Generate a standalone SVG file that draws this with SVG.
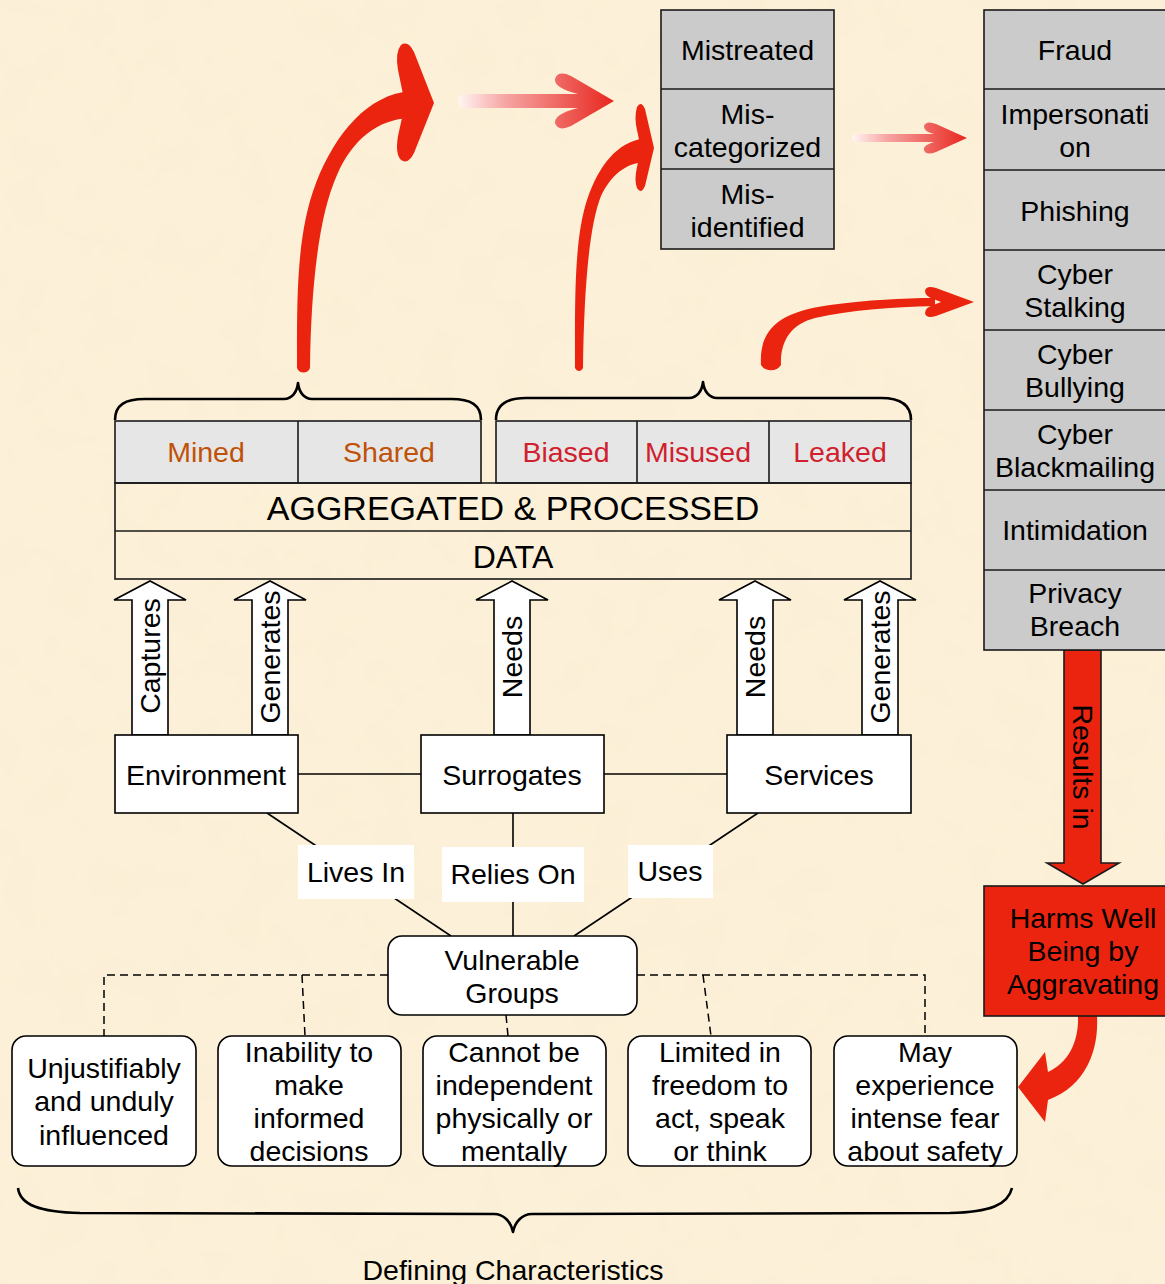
<svg xmlns="http://www.w3.org/2000/svg" width="1165" height="1284" viewBox="0 0 1165 1284">
  <defs>
    <style>
      .t { font-family: "Liberation Sans", Arial, Helvetica, sans-serif; font-size: 28.5px; fill: #000; text-anchor: middle; }
      .big { font-size: 34px; }
      .orange { fill: #BF5208; }
      .crimson { fill: #D01F2E; }
      .box { fill: #fff; stroke: #000; stroke-width: 1.6; }
      .gray { fill: #CBCBCB; stroke: #1a1a1a; stroke-width: 1.6; }
      .cell { fill: #E6E6E6; stroke: #1a1a1a; stroke-width: 1.6; }
      .frame { fill: none; stroke: #1a1a1a; stroke-width: 1.6; }
      .ln { fill: none; stroke: #000; stroke-width: 1.6; }
      .dash { fill: none; stroke: #000; stroke-width: 1.5; stroke-dasharray: 8 5; }
      .label { fill: #fff; stroke: none; }
      .red { fill: #EB2410; }
      .brace { fill: none; stroke: #000; stroke-width: 2.6; stroke-linejoin: round; }
      .hollow { fill: #fff; stroke: #000; stroke-width: 1.6; stroke-linejoin: miter; }
    </style>
    <filter id="paper" x="0" y="0" width="100%" height="100%">
      <feTurbulence type="fractalNoise" baseFrequency="0.022" numOctaves="3" seed="7"/>
      <feColorMatrix type="matrix" values="0 0 0 0 0.93  0 0 0 0 0.84  0 0 0 0 0.64  0.7 0 0 0 -0.3"/>
    </filter>
    <linearGradient id="fadeA" gradientUnits="userSpaceOnUse" x1="458" y1="0" x2="614" y2="0">
      <stop offset="0" stop-color="#FFF6F4"/>
      <stop offset="0.3" stop-color="#F6A6A4"/>
      <stop offset="1" stop-color="#E8261E"/>
    </linearGradient>
    <linearGradient id="fadeB" gradientUnits="userSpaceOnUse" x1="852" y1="0" x2="967" y2="0">
      <stop offset="0" stop-color="#FFF6F4"/>
      <stop offset="0.3" stop-color="#F6A6A4"/>
      <stop offset="1" stop-color="#E8261E"/>
    </linearGradient>
    <!-- white block arrow pointing up, base at origin -->
    <polygon id="upArrow" class="hollow" points="-18,0 -18,-135 -36,-135 0,-154 36,-135 18,-135 18,0"/>
  </defs>

  <!-- parchment background -->
  <rect x="0" y="0" width="1165" height="1284" fill="#FCF1D8"/>
  <rect x="0" y="0" width="1165" height="1284" filter="url(#paper)"/>

  <!-- connectors -->
  <g id="connectors">
    <!-- node links -->
    <line class="ln" x1="298" y1="774" x2="421" y2="774"/>
    <line class="ln" x1="604" y1="774" x2="727" y2="774"/>
    <line class="ln" x1="267" y1="813" x2="451" y2="936"/>
    <line class="ln" x1="513" y1="813" x2="513" y2="936"/>
    <line class="ln" x1="758" y1="813" x2="574" y2="936"/>
    <rect class="label" x="298" y="845" width="116" height="54"/>
    <text class="t" x="356" y="882">Lives In</text>
    <rect class="label" x="442" y="847" width="142" height="55"/>
    <text class="t" x="513" y="884">Relies On</text>
    <rect class="label" x="628" y="845" width="85" height="53"/>
    <text class="t" x="670" y="881">Uses</text>

    <!-- dashed links to characteristics -->
    <polyline class="dash" points="388,975 104,975 104,1036"/>
    <line class="dash" x1="302" y1="975" x2="305" y2="1036"/>
    <line class="dash" x1="506" y1="1015" x2="508" y2="1036"/>
    <polyline class="dash" points="637,975 925,975 925,1036"/>
    <line class="dash" x1="703" y1="975" x2="711" y2="1036"/>

    <!-- block arrows into data -->
    <use href="#upArrow" x="150" y="735"/>
    <use href="#upArrow" x="270" y="735"/>
    <use href="#upArrow" x="512" y="735"/>
    <use href="#upArrow" x="755" y="735"/>
    <use href="#upArrow" x="880" y="735"/>
    <text class="t" transform="translate(150,656) rotate(-90)" y="10">Captures</text>
    <text class="t" transform="translate(270,657) rotate(-90)" y="10">Generates</text>
    <text class="t" transform="translate(512,657) rotate(-90)" y="10">Needs</text>
    <text class="t" transform="translate(755,657) rotate(-90)" y="10">Needs</text>
    <text class="t" transform="translate(880,657) rotate(-90)" y="10">Generates</text>

    <!-- braces over data -->
    <path class="brace" d="M115 420 C115 405 125 399 145 399 L284 399 C292 399 297 392 298 383 C299 392 304 399 312 399 L451 399 C471 399 481 405 481 420"/>
    <path class="brace" d="M496 420 C496 405 506 398 526 398 L689 398 C697 398 702 391 703 382 C704 391 709 398 717 398 L881 398 C901 398 911 405 911 420"/>
    <!-- brace under characteristics -->
    <path class="brace" d="M18 1188 C20 1205 40 1212 80 1213 L494 1214 C504 1214 511 1222 513 1232 C515 1222 522 1214 532 1214 L950 1213 C990 1212 1008 1205 1012 1188"/>
    <text class="t" x="513" y="1280">Defining Characteristics</text>

    <!-- red curved arrows from data -->
    <path class="red" d="M297 368 C297 300 296 235 316 183 C336 132 368 95 410 91 L410 118 C378 119 352 140 337 175 C319 215 311 285 310 368 C308 374 299 374 297 368 Z"/>
    <path class="red" d="M434 103 L414 52 Q408 40 401 45 Q395 52 398 70 L405 104 L398 136 Q395 154 401 160 Q408 165 414 153 Z"/>

    <path class="red" d="M575 368 C575 300 574 240 587 200 C599 165 617 142 645 138 L645 162 C626 163 611 175 601 196 C589 226 584 290 583 368 C581 372 577 372 575 368 Z"/>
    <path class="red" d="M654 148 L645 109 Q641 100 637 107 Q634 117 637 130 L641 149 L637 167 Q634 180 637 188 Q641 195 645 186 Z"/>

    <path class="red" d="M761 365 C759 330 778 312 830 305 C870 300 900 298 935 298 L935 306 C890 307 850 310 815 318 C792 324 780 340 781 365 C777 372 765 372 761 365 Z"/>
    <path class="red" d="M974 302 L936 288 Q926 285 925 291 Q925 297 936 300 L941 302 L936 304 Q925 307 925 313 Q926 319 936 316 Z"/>

    <!-- faded straight arrows -->
    <path fill="url(#fadeA)" d="M614 101 L571 76 Q558 70 555 79 Q554 88 578 94 L465 94 Q458 94 458 101 Q458 108 465 108 L578 108 Q554 114 555 123 Q558 132 571 126 Z"/>
    <path fill="url(#fadeB)" d="M967 138 L936 124 Q926 120 924 126 Q923 131 934 134 L856 134 Q852 134 852 138 Q852 142 856 142 L934 142 Q923 145 924 150 Q926 156 936 152 Z"/>

    <!-- results-in arrow -->
    <polygon class="red" stroke="#1a1a1a" stroke-width="1.6" points="1064,650 1101,650 1101,863 1119,863 1083,884 1047,863 1064,863"/>
    <text class="t" transform="translate(1083,767) rotate(90)" y="10">Results in</text>

    <!-- arrow from harms back to characteristics -->
    <path class="red" d="M1078 1016 L1097 1016 C1099 1050 1086 1086 1048 1100 L1045 1122 L1018 1087 L1045 1052 L1048 1072 C1068 1063 1079 1042 1078 1016 Z"/>
  </g>

  <!-- outcome stack: mistreatment -->
  <g id="mistreatment">
    <rect class="gray" x="661" y="10" width="173" height="239"/>
    <line class="frame" x1="661" y1="89" x2="834" y2="89"/>
    <line class="frame" x1="661" y1="169" x2="834" y2="169"/>
    <text class="t" x="747.5" y="60">Mistreated</text>
    <text class="t" x="747.5" y="124">Mis-</text>
    <text class="t" x="747.5" y="157">categorized</text>
    <text class="t" x="747.5" y="204">Mis-</text>
    <text class="t" x="747.5" y="237">identified</text>
  </g>

  <!-- outcome stack: online harms -->
  <g id="online-harms">
    <rect class="gray" x="984" y="10" width="185" height="640"/>
    <line class="frame" x1="984" y1="89" x2="1169" y2="89"/>
    <line class="frame" x1="984" y1="170" x2="1169" y2="170"/>
    <line class="frame" x1="984" y1="250" x2="1169" y2="250"/>
    <line class="frame" x1="984" y1="330" x2="1169" y2="330"/>
    <line class="frame" x1="984" y1="410" x2="1169" y2="410"/>
    <line class="frame" x1="984" y1="490" x2="1169" y2="490"/>
    <line class="frame" x1="984" y1="570" x2="1169" y2="570"/>
    <text class="t" x="1075" y="60">Fraud</text>
    <text class="t" x="1075" y="124">Impersonati</text>
    <text class="t" x="1075" y="157">on</text>
    <text class="t" x="1075" y="221">Phishing</text>
    <text class="t" x="1075" y="284">Cyber</text>
    <text class="t" x="1075" y="317">Stalking</text>
    <text class="t" x="1075" y="364">Cyber</text>
    <text class="t" x="1075" y="397">Bullying</text>
    <text class="t" x="1075" y="444">Cyber</text>
    <text class="t" x="1075" y="477">Blackmailing</text>
    <text class="t" x="1075" y="540">Intimidation</text>
    <text class="t" x="1075" y="603">Privacy</text>
    <text class="t" x="1075" y="636">Breach</text>
  </g>

  <!-- harm summary -->
  <g id="harms">
    <rect class="red" stroke="#1a1a1a" stroke-width="1.6" x="984" y="886" width="185" height="130"/>
    <text class="t" x="1083" y="928">Harms Well</text>
    <text class="t" x="1083" y="961">Being by</text>
    <text class="t" x="1083" y="994">Aggravating</text>
  </g>

  <!-- data block -->
  <g id="data">
    <rect class="cell" x="115" y="421" width="366" height="62"/>
    <line class="frame" x1="298" y1="421" x2="298" y2="483"/>
    <rect class="cell" x="496" y="421" width="415" height="62"/>
    <line class="frame" x1="637" y1="421" x2="637" y2="483"/>
    <line class="frame" x1="769" y1="421" x2="769" y2="483"/>
    <rect class="frame" x="115" y="483" width="796" height="96"/>
    <line class="frame" x1="115" y1="531" x2="911" y2="531"/>
    <text class="t orange" x="206" y="462">Mined</text>
    <text class="t orange" x="389" y="462">Shared</text>
    <text class="t crimson" x="566" y="462">Biased</text>
    <text class="t crimson" x="698" y="462">Misused</text>
    <text class="t crimson" x="840" y="462">Leaked</text>
    <text class="t big" x="513" y="520">AGGREGATED &amp; PROCESSED</text>
    <text class="t" x="513" y="568" style="font-size:32px">DATA</text>
  </g>

  <g id="environment">
    <rect class="box" x="115" y="735" width="183" height="78"/>
    <text class="t" x="206" y="785">Environment</text>
  </g>
  <g id="surrogates">
    <rect class="box" x="421" y="735" width="183" height="78"/>
    <text class="t" x="512" y="785">Surrogates</text>
  </g>
  <g id="services">
    <rect class="box" x="727" y="735" width="184" height="78"/>
    <text class="t" x="819" y="785">Services</text>
  </g>

  <g id="vulnerable-groups">
    <rect class="box" x="388" y="936" width="249" height="79" rx="14"/>
    <text class="t" x="512" y="970">Vulnerable</text>
    <text class="t" x="512" y="1003">Groups</text>
  </g>

  <!-- defining characteristics -->
  <g id="unduly-influenced">
    <rect class="box" x="12" y="1036" width="184" height="130" rx="14"/>
    <text class="t" x="104" y="1078">Unjustifiably</text>
    <text class="t" x="104" y="1111">and unduly</text>
    <text class="t" x="104" y="1145">influenced</text>
  </g>
  <g id="uninformed">
    <rect class="box" x="218" y="1036" width="183" height="130" rx="14"/>
    <text class="t" x="309" y="1062">Inability to</text>
    <text class="t" x="309" y="1095">make</text>
    <text class="t" x="309" y="1128">informed</text>
    <text class="t" x="309" y="1161">decisions</text>
  </g>
  <g id="dependent">
    <rect class="box" x="423" y="1036" width="183" height="130" rx="14"/>
    <text class="t" x="514" y="1062">Cannot be</text>
    <text class="t" x="514" y="1095">independent</text>
    <text class="t" x="514" y="1128">physically or</text>
    <text class="t" x="514" y="1161">mentally</text>
  </g>
  <g id="limited-freedom">
    <rect class="box" x="628" y="1036" width="183" height="130" rx="14"/>
    <text class="t" x="720" y="1062">Limited in</text>
    <text class="t" x="720" y="1095">freedom to</text>
    <text class="t" x="720" y="1128">act, speak</text>
    <text class="t" x="720" y="1161">or think</text>
  </g>
  <g id="fear">
    <rect class="box" x="834" y="1036" width="183" height="130" rx="14"/>
    <text class="t" x="925" y="1062">May</text>
    <text class="t" x="925" y="1095">experience</text>
    <text class="t" x="925" y="1128">intense fear</text>
    <text class="t" x="925" y="1161">about safety</text>
  </g>
</svg>
